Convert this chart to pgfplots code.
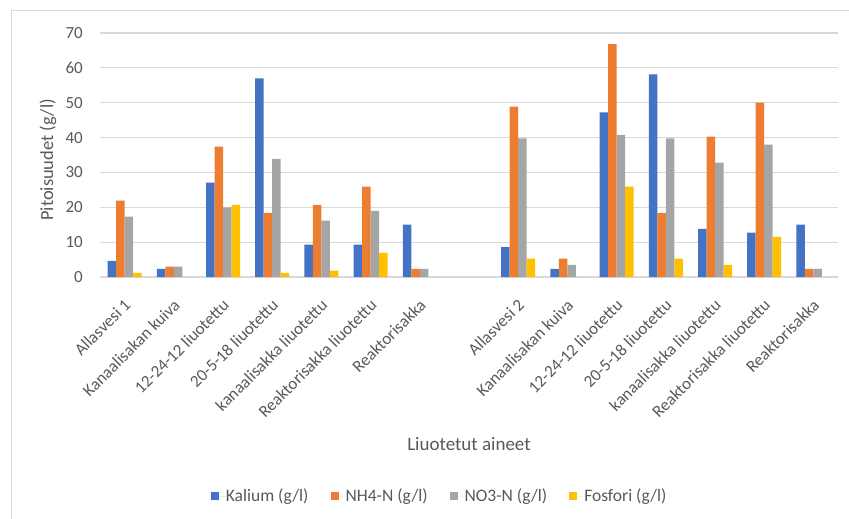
\documentclass[border=0pt]{standalone}
\usepackage{pgfplots}
\pgfplotsset{compat=1.18}
\usepackage{fontspec}
\setmainfont{Carlito}
\definecolor{kal}{HTML}{4472C4}
\definecolor{nh}{HTML}{ED7D31}
\definecolor{no}{HTML}{A5A5A5}
\definecolor{fos}{HTML}{FFC000}
\definecolor{gridc}{HTML}{D9D9D9}
\definecolor{txt}{HTML}{595959}
\begin{document}
\begin{tikzpicture}
\path[use as bounding box] (0,0) rectangle (849pt,-519pt);
\draw[line width=1pt, gridc] (11pt,-519pt) -- (11pt,-11pt) -- (849pt,-11pt);
\begin{axis}[
    at={(100pt,-277pt)}, anchor=south west,
    scale only axis, width=738pt, height=244pt,
    ybar=0pt, bar width=8.5pt,
    xmin=-0.5, xmax=14.5, ymin=0, ymax=70,
    xtick={0,...,14},
    xticklabels={Allasvesi 1, Kanaalisakan kuiva, 12-24-12 liuotettu, 20-5-18 liuotettu,
        kanaalisakka liuotettu, Reaktorisakka liuotettu, Reaktorisakka, {},
        Allasvesi 2, Kanaalisakan kuiva, 12-24-12 liuotettu, 20-5-18 liuotettu,
        kanaalisakka liuotettu, Reaktorisakka liuotettu, Reaktorisakka},
    ytick={0,10,...,70},
    ymajorgrids, grid style={line width=1.2pt, gridc},
    axis line style={draw=none}, major tick length=0pt,
    /pgf/number format/assume math mode=true,
    tick label style={font=\fontsize{17}{20}\selectfont, text=txt},
    yticklabel style={inner sep=0pt, xshift=-17pt, anchor=east},
    xticklabel style={yshift=-25pt, xshift=3pt, rotate=45, anchor=east, inner sep=0pt},
    xlabel={Liuotetut aineet},
    ylabel={Pitoisuudet (g/l)},
    xlabel style={at={(axis description cs:0.5,-0.684)}, anchor=center,
        font=\fontsize{19}{22}\selectfont, text=txt},
    ylabel style={at={(axis description cs:-0.0705,0.48)}, anchor=center,
        font=\fontsize{18.5}{22}\selectfont, text=txt},
    legend columns=4,
    legend style={at={(axis description cs:0.459,-0.898)}, anchor=center, draw=none,
        font=\fontsize{17.5}{20}\selectfont, text=txt,
        nodes={inner xsep=0pt},
        /tikz/every even column/.append style={column sep=22pt}},
    legend image code/.code={\fill[#1] (0pt,-4pt) rectangle (8pt,4pt);
        \path (0pt,0pt) -- (15pt,0pt);},
]
\addplot[fill=kal, draw=none] coordinates {
    (0,4.6)(1,2.3)(2,27.1)(3,57.0)(4,9.3)(5,9.3)(6,15.0)
    (8,8.6)(9,2.3)(10,47.2)(11,58.1)(12,13.8)(13,12.7)(14,15.0)};
\addplot[fill=nh, draw=none] coordinates {
    (0,21.9)(1,3.0)(2,37.4)(3,18.4)(4,20.7)(5,25.9)(6,2.3)
    (8,48.9)(9,5.3)(10,66.8)(11,18.4)(12,40.3)(13,50.0)(14,2.3)};
\addplot[fill=no, draw=none] coordinates {
    (0,17.3)(1,3.0)(2,20.0)(3,33.9)(4,16.2)(5,19.0)(6,2.3)
    (8,39.8)(9,3.5)(10,40.8)(11,39.8)(12,32.8)(13,38.0)(14,2.3)};
\addplot[fill=fos, draw=none] coordinates {
    (0,1.2)(1,0)(2,20.7)(3,1.2)(4,1.8)(5,6.9)(6,0)
    (8,5.3)(9,0)(10,25.9)(11,5.3)(12,3.5)(13,11.5)(14,0)};
\legend{Kalium (g/l), NH4-N (g/l), NO3-N (g/l), Fosfori (g/l)}
\end{axis}
\end{tikzpicture}
\end{document}
